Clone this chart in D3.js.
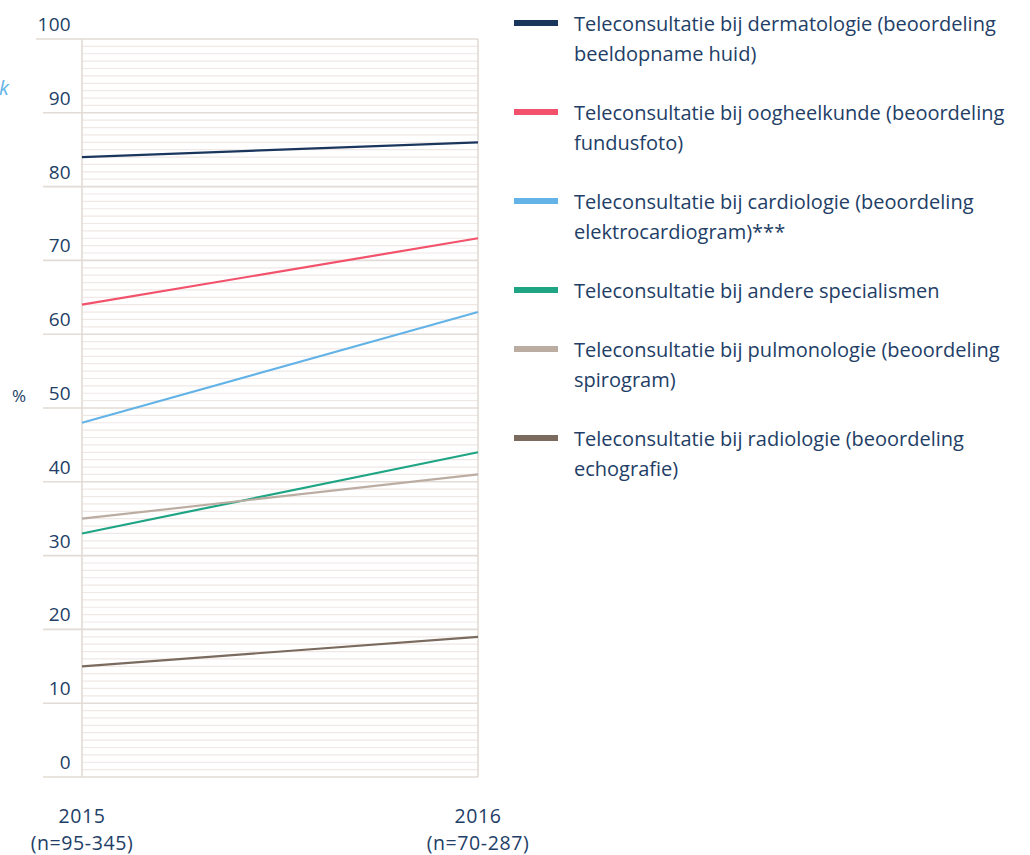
<!DOCTYPE html>
<html><head><meta charset="utf-8">
<script src="https://cdn.jsdelivr.net/npm/d3@7"></script>
<style>
html,body{margin:0;padding:0;background:#fff;}
svg{display:block;font-family:"Open Sans",Lato,sans-serif;}
</style></head>
<body>
<svg id="chart" width="1030" height="855"></svg>
<script>
const years = ["2015", "2016"];
const yearNotes = ["(n=95-345)", "(n=70-287)"];
const seriesNames = [
  "Teleconsultatie bij dermatologie (beoordeling|beeldopname huid)",
  "Teleconsultatie bij oogheelkunde (beoordeling|fundusfoto)",
  "Teleconsultatie bij cardiologie (beoordeling|elektrocardiogram)***",
  "Teleconsultatie bij andere specialismen",
  "Teleconsultatie bij pulmonologie (beoordeling|spirogram)",
  "Teleconsultatie bij radiologie (beoordeling|echografie)"
];
const values2015 = [84, 64, 48, 33, 35, 15];
const values2016 = [86, 73, 63, 44, 41, 19];
const seriesColors = ["#1b365d", "#f2526b", "#63b3e7", "#1fa584", "#bcada2", "#7b6b5e"];
const yTicks = [0, 10, 20, 30, 40, 50, 60, 70, 80, 90, 100];

const svg = d3.select("#chart");
const textColor = "#223e66";
const x = d3.scalePoint().domain(years).range([82, 478]);
const y = d3.scaleLinear().domain([0, 100]).range([777, 39]);

// minor grid
const minor = d3.range(0, 101, 1).filter(v => v % 10 !== 0);
svg.append("g").selectAll("line").data(minor).join("line")
  .attr("x1", 82).attr("x2", 478)
  .attr("y1", d => y(d)).attr("y2", d => y(d))
  .attr("stroke", "#efe8e5").attr("stroke-width", 1.2);

// major grid
svg.append("g").selectAll("line").data(yTicks).join("line")
  .attr("x1", d => d === 100 ? 36 : 43).attr("x2", 478)
  .attr("y1", d => y(d)).attr("y2", d => y(d))
  .attr("stroke", "#e3dbd5").attr("stroke-width", 1.6);

// verticals
svg.append("g").selectAll("line").data(years).join("line")
  .attr("x1", d => x(d)).attr("x2", d => x(d))
  .attr("y1", y(100)).attr("y2", y(0))
  .attr("stroke", "#e3dbd5").attr("stroke-width", 1.6);

// y tick labels
svg.append("g").selectAll("text").data(yTicks).join("text")
  .attr("x", 71).attr("y", d => y(d) - 8)
  .attr("text-anchor", "end")
  .attr("fill", textColor).attr("font-size", 19).attr("letter-spacing", 0.3)
  .text(d => d);

// "%" label and truncated "k"
svg.append("text").attr("x", 12).attr("y", 402).attr("fill", textColor)
  .attr("font-size", 17).text("%");
svg.append("text").attr("x", -1).attr("y", 95).attr("fill", "#63b3e7")
  .attr("font-size", 20).attr("font-style", "italic").text("k");

// x labels
const xl = svg.append("g").selectAll("text").data(years).join("text")
  .attr("text-anchor", "middle").attr("fill", textColor).attr("font-size", 19.5)
  .attr("letter-spacing", 0.6);
xl.append("tspan").attr("x", d => x(d)).attr("y", 823).text(d => d);
xl.append("tspan").attr("x", d => x(d)).attr("y", 850).text((d, i) => yearNotes[i]);

// lines
const data = seriesNames.map((n, i) => ({name: n, color: seriesColors[i],
  pts: [{yr: years[0], v: values2015[i]}, {yr: years[1], v: values2016[i]}]}));
const line = d3.line().x(d => x(d.yr)).y(d => y(d.v));
svg.append("g").selectAll("path").data(data).join("path")
  .attr("d", d => line(d.pts)).attr("fill", "none")
  .attr("stroke", d => d.color).attr("stroke-width", 2.2);

// legend
const lineH = 30, gap = 29;
let cy = 23;
data.forEach(d => {
  const lines = d.name.split("|");
  const g = svg.append("g");
  g.append("rect").attr("x", 514).attr("y", cy - 3).attr("width", 44).attr("height", 6)
    .attr("fill", d.color);
  const t = g.append("text").attr("fill", textColor).attr("font-size", 20);
  lines.forEach((l, k) => {
    t.append("tspan").attr("x", 574).attr("y", cy + 8 + k * lineH).text(l);
  });
  cy += lines.length * lineH + gap;
});
</script>
</body></html>
